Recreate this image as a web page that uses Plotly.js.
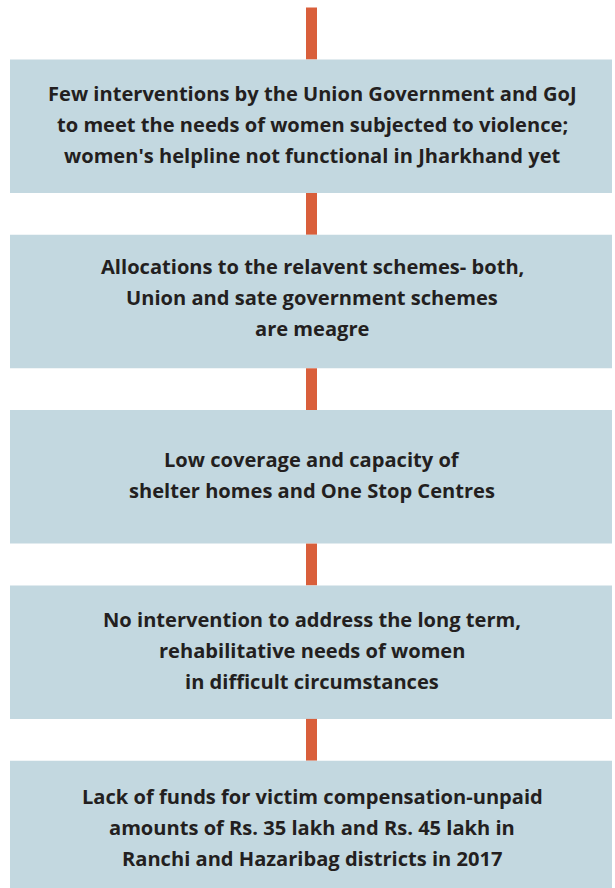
<!DOCTYPE html>
<html><head><meta charset="utf-8">
<script src="https://cdn.plot.ly/plotly-3.0.1.min.js"></script>
<style>html,body{margin:0;padding:0;background:#fff}#chart{width:615px;height:888px}</style>
</head><body><div id="chart"></div>
<script>
// Flowchart content: one entry per box, each with its text lines
const steps = ["Step 1", "Step 2", "Step 3", "Step 4", "Step 5"];
const box1Lines = ["Few interventions by the Union Government and GoJ", "to meet the needs of women subjected to violence;", "women's helpline not functional in Jharkhand yet"];
const box2Lines = ["Allocations to the relavent schemes- both,", "Union and sate government schemes", "are meagre"];
const box3Lines = ["Low coverage and capacity of", "shelter homes and One Stop Centres"];
const box4Lines = ["No intervention to address the long term,", "rehabilitative needs of women", "in difficult circumstances"];
const box5Lines = ["Lack of funds for victim compensation-unpaid", "amounts of Rs. 35 lakh and Rs. 45 lakh in", "Ranchi and Hazaribag districts in 2017"];
const boxLines = [box1Lines, box2Lines, box3Lines, box4Lines, box5Lines];

// layout geometry (pixel-like coordinate space)
const W = 615, H = 888;
const boxTop0 = 59.5, boxH = 133.5, pitch = 175.3;
const boxX0 = 10, boxX1 = 612;
const connX = 311.5, connW = 11;
const lineGap = 31.2;
const boxFill = '#c3d8e0', connColor = '#d95f3b', textColor = '#231f20';

const shapes = [];
const annotations = [];
boxLines.forEach((lines, i) => {
  const top = boxTop0 + i * pitch;
  const bottom = top + boxH;
  const connTop = i === 0 ? 7.5 : top - (pitch - boxH);
  shapes.push({type:'rect', xref:'x', yref:'y', x0: connX - connW/2, x1: connX + connW/2, y0: connTop, y1: top, fillcolor: connColor, line:{width:0}, layer:'below'});
  shapes.push({type:'rect', xref:'x', yref:'y', x0: boxX0, x1: boxX1, y0: top, y1: bottom, fillcolor: boxFill, line:{width:0}, layer:'below'});
  const cy = (top + bottom) / 2 - 1.5 - (i === 1 ? 2.5 : 0) + (i === 4 ? 1.5 : 0);
  const n = lines.length;
  lines.forEach((t, j) => {
    annotations.push({xref:'x', yref:'y', x: 312, y: cy + (j - (n-1)/2) * lineGap, text: '<b>' + t + '</b>', showarrow:false,
      xanchor:'center', yanchor:'middle', font:{family:'"Open Sans", sans-serif', size:20.1, color:textColor}});
  });
});

const layout = {
  width: W, height: H,
  margin: {l:0, r:0, t:0, b:0},
  paper_bgcolor: '#ffffff', plot_bgcolor: '#ffffff',
  xaxis: {range:[0, W], visible:false, fixedrange:true},
  yaxis: {range:[H, 0], visible:false, fixedrange:true},
  showlegend: false,
  shapes: shapes,
  annotations: annotations
};
const trace = {type:'scatter', mode:'markers', x: steps.map((s,i)=>312), y: steps.map((s,i)=>boxTop0 + i*pitch + boxH/2), text: steps, marker:{opacity:0}, hoverinfo:'none'};
Plotly.newPlot('chart', [trace], layout, {staticPlot:true, displayModeBar:false});
</script></body></html>
